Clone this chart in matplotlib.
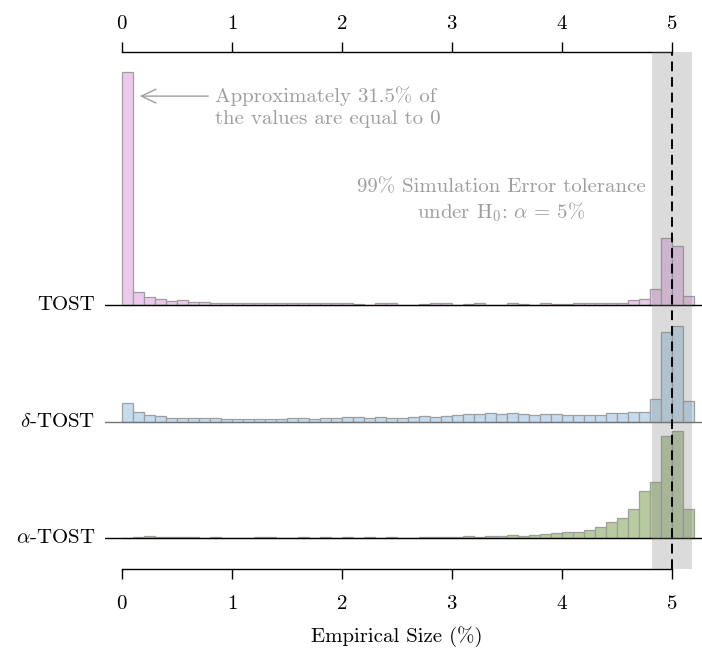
import numpy as np
import matplotlib
matplotlib.use("Agg")
import matplotlib.pyplot as plt

plt.rcParams['font.family'] = ['cmr10', 'DejaVu Serif']
plt.rcParams['mathtext.fontset'] = 'cm'
plt.rcParams['axes.formatter.use_mathtext'] = True

# histogram bins (empirical size, %)
bin_edges = np.round(np.arange(0, 5.21, 0.1), 2)

# bar heights (% of simulations)
tost = [31.5, 1.7, 1.12, 0.77, 0.5, 0.63, 0.4, 0.35, 0.3, 0.3,
        0.28, 0.3, 0.25, 0.25, 0.2, 0.25, 0.2, 0.22, 0.2, 0.25,
        0.2, 0.13, 0.05, 0.22, 0.22, 0.05, 0.02, 0.13, 0.27, 0.27,
        0.02, 0.18, 0.31, 0.02, 0.02, 0.31, 0.13, 0.03, 0.31, 0.18,
        0.18, 0.31, 0.22, 0.31, 0.31, 0.31, 0.65, 0.82, 2.15, 9.1,
        7.95, 1.15]
delta_tost = [2.6, 1.31, 0.95, 0.77, 0.5, 0.5, 0.5, 0.5, 0.5, 0.4,
              0.4, 0.4, 0.4, 0.4, 0.4, 0.5, 0.5, 0.45, 0.5, 0.55,
              0.63, 0.63, 0.6, 0.63, 0.6, 0.59, 0.63, 0.77, 0.72, 0.86,
              0.9, 1.04, 1.04, 1.22, 1.08, 1.22, 1.13, 0.95, 1.13, 1.13,
              0.95, 0.99, 0.99, 0.99, 1.17, 1.17, 1.4, 1.42, 3.05, 12.1,
              13.0, 2.9]
alpha_tost = [0.0, 0.12, 0.3, 0.2, 0.2, 0.08, 0.08, 0.05, 0.1, 0.05,
              0.05, 0.05, 0.08, 0.08, 0.05, 0.05, 0.08, 0.05, 0.1, 0.05,
              0.1, 0.05, 0.1, 0.05, 0.1, 0.03, 0.05, 0.14, 0.14, 0.09,
              0.09, 0.23, 0.18, 0.27, 0.23, 0.41, 0.32, 0.45, 0.59, 0.68,
              0.77, 0.86, 1.13, 1.49, 2.1, 2.66, 3.9, 6.4, 7.55, 13.8,
              14.4, 3.9]

labels = ["TOST", r"$\delta$-TOST", r"$\alpha$-TOST"]
colors = ["#ecc9ec", "#c4dcee", "#b7cb9f"]
offsets = [35.68, 19.86, 4.19]   # vertical position of each ridge
base_colors = ["k", "0.45", "k"]

fig = plt.figure(figsize=(7.02, 6.54), dpi=100)
ax = fig.add_axes([105 / 702, 85 / 654, 597 / 702, 517 / 654])
ax.set_xlim(-0.1545, 5.2727)
ax.set_ylim(0, 69.86)

for vals, lab, col, off, bc in zip([tost, delta_tost, alpha_tost], labels,
                                    colors, offsets, base_colors):
    ax.bar(bin_edges[:-1], vals, width=0.1, align='edge', bottom=off,
           color=col, edgecolor='0.62', linewidth=0.9, zorder=2)
    ax.axhline(off, color=bc, lw=1.0, zorder=2.2)
    ax.text(-0.245, off, lab, ha='right', va='center', fontsize=15)

# tolerance band + nominal level
ax.axvspan(4.82, 5.18, color='0.5', alpha=0.28, lw=0, zorder=3)
ax.axvline(5, color='k', lw=1.4, ls=(0, (5, 3)), zorder=4)

grey = '0.62'
ax.annotate('', xy=(0.136, 63.9), xytext=(0.81, 63.9),
            arrowprops=dict(arrowstyle='->,head_length=0.7,head_width=0.33',
                            color=grey, lw=1.0, mutation_scale=15))
ax.text(0.845, 62.45, "Approximately 31.5% of\nthe values are equal to 0",
        ha='left', va='center', color=grey, fontsize=15, linespacing=1.3)
ax.text(3.45, 49.7, "99% Simulation Error tolerance\n" + r"under H$_0$: $\alpha\,=\,5\%$",
        ha='center', va='center', color=grey, fontsize=15, linespacing=1.2)

# axes styling: only top and bottom spines, between 0 and 5
for s in ['left', 'right', 'top']:
    ax.spines[s].set_visible(False)
ax.spines['bottom'].set_bounds(0, 5)
ax.spines['bottom'].set_linewidth(1.0)
ax.set_yticks([])
ax.set_xticks(range(6))
ax.tick_params(axis='x', direction='out', length=7.5, width=1.0,
               labelsize=15, pad=11)

top = ax.secondary_xaxis('top')
top.set_xticks(range(6))
top.spines['top'].set_bounds(0, 5)
top.spines['top'].set_linewidth(1.0)
top.tick_params(axis='x', direction='out', length=7.5, width=1.0,
                labelsize=15, pad=6.5)

fig.text(397 / 702, 1 - 637 / 654, "Empirical Size (%)", ha='center',
         va='center', fontsize=15)

fig.savefig("out.png", dpi=100)
